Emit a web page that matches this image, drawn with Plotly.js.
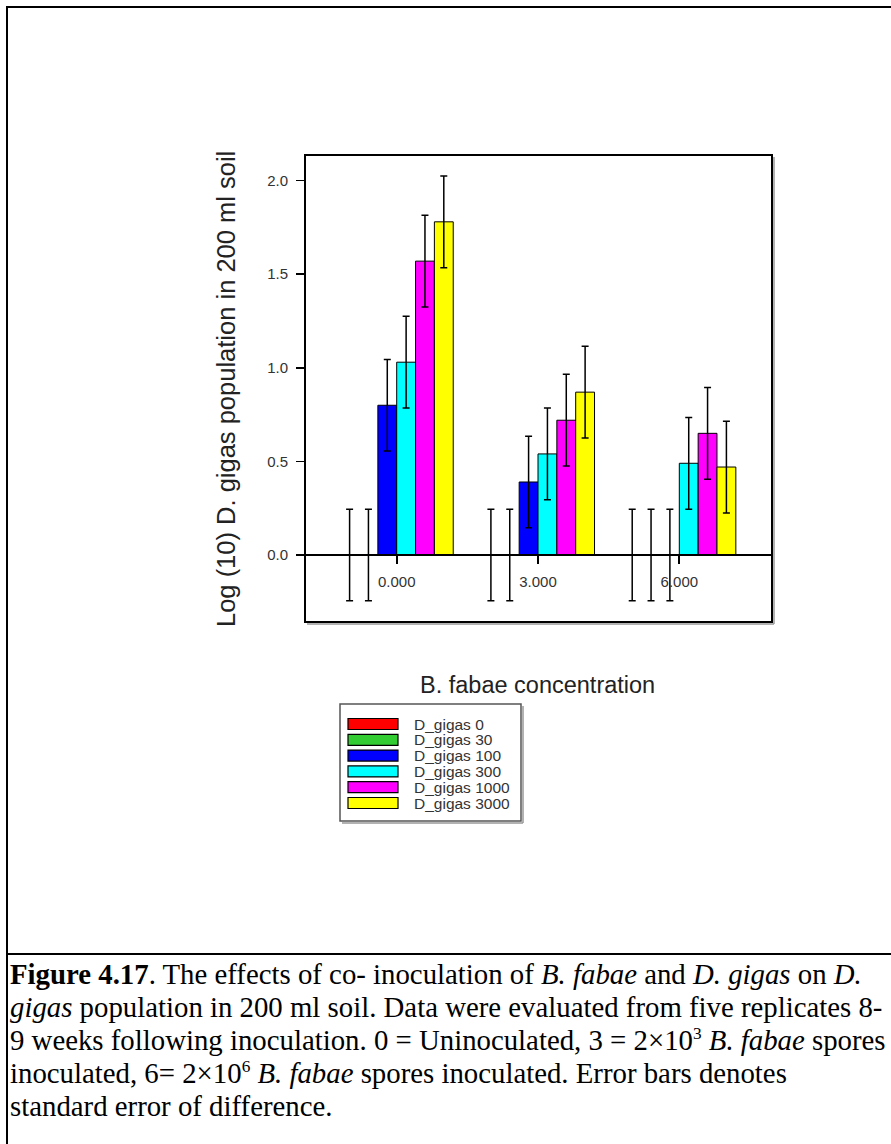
<!DOCTYPE html>
<html>
<head>
<meta charset="utf-8">
<script src="https://cdn.plot.ly/plotly-3.0.1.min.js"></script>
<style>
  html, body { margin: 0; padding: 0; background: #fff; }
  body { width: 891px; height: 1144px; position: relative; overflow: hidden; }
  #chart { position: absolute; left: 0; top: 0; width: 891px; height: 950px; }
  .rule { position: absolute; background: #000; z-index: 5; }
  #caption {
    position: absolute; left: 10px; top: 958px; z-index: 4;
    font-family: "Liberation Serif", "Times New Roman", serif;
    font-size: 28.8px; line-height: 33px; color: #000;
    white-space: nowrap;
  }
  #caption sup { font-size: 0.6em; line-height: 0; vertical-align: super; }
</style>
</head>
<body>
<div id="chart"></div>
<div class="rule" style="left:6px; top:6px; width:885px; height:2px;"></div>
<div class="rule" style="left:6px; top:6px; width:2px; height:1138px;"></div>
<div class="rule" style="left:6px; top:953px; width:885px; height:2px;"></div>
<div id="caption">
<b>Figure 4.17</b>. The effects of co- inoculation of <i>B. fabae</i> and <i>D. gigas</i> on <i>D.</i><br>
<i>gigas</i> population in 200 ml soil. Data were evaluated from five replicates 8-<br>
9 weeks following inoculation. 0 = Uninoculated, 3 = 2×10<sup>3</sup> <i>B. fabae</i> spores<br>
inoculated, 6= 2×10<sup>6</sup> <i>B. fabae</i> spores inoculated. Error bars denotes<br>
standard error of difference.
</div>
<script>
// B. fabae concentration groups (x positions) and their tick labels
const concentrations = [0, 3, 6];
const concentrationLabels = ['0.000', '3.000', '6.000'];

// D. gigas inoculum levels (series names)
const seriesNames = ['D_gigas 0', 'D_gigas 30', 'D_gigas 100', 'D_gigas 300', 'D_gigas 1000', 'D_gigas 3000'];
const seriesColors = ['#ff0000', '#33cc33', '#0000ff', '#00ffff', '#ff00ff', '#ffff00'];

// Log10 D. gigas population in 200 ml soil, one value per concentration
const gigas0    = [0.00, 0.00, 0.00];
const gigas30   = [0.00, 0.00, 0.00];
const gigas100  = [0.80, 0.39, 0.00];
const gigas300  = [1.03, 0.54, 0.49];
const gigas1000 = [1.57, 0.72, 0.65];
const gigas3000 = [1.78, 0.87, 0.47];
const seriesValues = [gigas0, gigas30, gigas100, gigas300, gigas1000, gigas3000];

// Standard error of difference
const sed = 0.245;

// y-axis ticks
const yTicks = [0, 0.5, 1.0, 1.5, 2.0];

// Plot frame in page pixels
const frame = { left: 305, top: 155, right: 772, bottom: 622 };
const W = 891, H = 950;
const plotW = frame.right - frame.left, plotH = frame.bottom - frame.top;
const px = v => (v - frame.left) / plotW;       // page x -> paper x
const py = v => (frame.bottom - v) / plotH;     // page y -> paper y

const sans = 'Liberation Sans, Arial, sans-serif';
const axisFont = { family: sans, size: 15, color: '#333' };

const traces = seriesNames.map((name, i) => ({
  type: 'bar',
  name: name,
  x: concentrations,
  y: seriesValues[i],
  marker: { color: seriesColors[i], line: { color: '#000', width: 1 } },
  error_y: { type: 'constant', value: sed, visible: true, color: '#000', thickness: 1.5, width: 3.5 },
  showlegend: false,
  hoverinfo: 'name+y'
}));

// box with a soft drop shadow on its right and bottom edges
function shadowBox(x0, y0, x1, y1, color, width, fill) {
  return [
    { type: 'line', xref: 'paper', yref: 'paper', x0: px(x1 + 2), x1: px(x1 + 2), y0: py(y0 + 2), y1: py(y1 + 2),
      line: { color: '#999', width: 1.5 }, layer: 'above' },
    { type: 'line', xref: 'paper', yref: 'paper', x0: px(x0 + 2), x1: px(x1 + 2), y0: py(y1 + 2), y1: py(y1 + 2),
      line: { color: '#999', width: 1.5 }, layer: 'above' },
    { type: 'rect', xref: 'paper', yref: 'paper', x0: px(x0), x1: px(x1), y0: py(y1), y1: py(y0),
      line: { color: color, width: width }, fillcolor: fill, layer: 'above' }
  ];
}

const shapes = [
  ...shadowBox(frame.left, frame.top, frame.right, frame.bottom, '#000', 2, 'rgba(0,0,0,0)'),
  ...shadowBox(340, 704, 521, 821, '#555', 1.5, '#fff')
];

const annotations = [
  { xref: 'paper', yref: 'paper', x: px(537), y: py(685), xanchor: 'center', yanchor: 'middle',
    text: 'B. fabae concentration', showarrow: false, font: { family: sans, size: 23.5, color: '#222' } },
  { xref: 'paper', yref: 'paper', x: px(226), y: py(389), xanchor: 'center', yanchor: 'middle',
    textangle: -90, text: 'Log (10) D. gigas population in 200 ml soil', showarrow: false,
    font: { family: sans, size: 25.5, color: '#222' } }
];

// legend entries: wide swatch + label
const legendTop = 724, legendStep = 15.8;
seriesNames.forEach((name, i) => {
  const cy = legendTop + i * legendStep;
  shapes.push({ type: 'rect', xref: 'paper', yref: 'paper',
    x0: px(348), x1: px(398), y0: py(cy + 5.5), y1: py(cy - 5.5),
    fillcolor: seriesColors[i], line: { color: '#000', width: 1.2 }, layer: 'above' });
  annotations.push({ xref: 'paper', yref: 'paper', x: px(412), y: py(cy),
    xanchor: 'left', yanchor: 'middle', text: name, showarrow: false,
    font: { family: sans, size: 15.5, color: '#333' } });
});

const layout = {
  width: W, height: H,
  margin: { l: frame.left, r: W - frame.right, t: frame.top, b: H - frame.bottom, pad: 0 },
  paper_bgcolor: 'rgba(0,0,0,0)',
  plot_bgcolor: '#fff',
  barmode: 'group',
  bargap: 0.2,
  bargroupgap: 0,
  showlegend: false,
  xaxis: {
    range: [-1.947, 7.968],
    anchor: 'free',
    position: py(555),
    showline: true, linecolor: '#000', linewidth: 2,
    ticks: 'outside', ticklen: 8, tickwidth: 2, tickcolor: '#000',
    tickvals: concentrations, ticktext: concentrationLabels,
    ticklabelstandoff: 5,
    showgrid: false, zeroline: false,
    tickfont: axisFont
  },
  yaxis: {
    range: [-0.358, 2.137],
    tickvals: yTicks, tickformat: '.1f',
    ticks: 'outside', ticklen: 8, tickwidth: 1.5, tickcolor: '#000',
    ticklabelstandoff: 5,
    showline: false, showgrid: false, zeroline: false,
    tickfont: axisFont
  },
  shapes: shapes,
  annotations: annotations
};

Plotly.newPlot('chart', traces, layout, { displayModeBar: false, staticPlot: true });
</script>
</body>
</html>
